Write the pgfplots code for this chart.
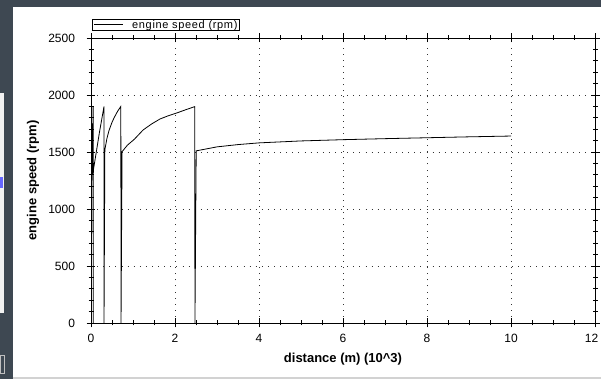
\documentclass[border=0pt]{standalone}
\usepackage{pgfplots}
\pgfplotsset{compat=1.18}
\usepackage{fontspec}
\setmainfont{Liberation Sans}
\newfontfamily\legfont[LetterSpace=6]{Liberation Sans}
\definecolor{framegray}{HTML}{3E4852}
\begin{document}
\begin{tikzpicture}[x=1pt,y=1pt]
\useasboundingbox (0,0) rectangle (601,379);
\fill[white] (0,0) rectangle (601,379);
\fill[framegray] (0,372) rectangle (601,379);
\fill[framegray] (0,0) rectangle (13,379);
\fill[gray!10] (0,66) rectangle (4,286);
\fill[blue!60] (0,191) rectangle (3,202);
\draw[gray!50] (0,6) rectangle (4,24);
\fill[gray!35] (13,0) rectangle (601,2);
\begin{axis}[
  at={(91pt,56pt)}, anchor=south west,
  width=504pt, height=285pt, scale only axis,
  xmin=0, xmax=12, ymin=0, ymax=2500,
  xtick={0,2,...,12}, ytick={0,500,...,2500},
  xticklabels={0,2,4,6,8,10,{\hspace*{-7pt}12}},
  minor x tick num=3, minor y tick num=4,
  tick align=center, major tick length=9pt, minor tick length=5pt,
  every tick/.style={black, line width=0.7pt},
  axis line style={line width=0.9pt},
  xmajorgrids, ymajorgrids,
  grid style={black!80, line width=0.9pt, dash pattern=on 0.9pt off 5.2pt},
  /pgf/number format/assume math mode=true,
  /pgf/number format/1000 sep={},
  ticklabel style={font=\fontsize{12}{14}\selectfont},
  yticklabel style={xshift=-8pt},
  xticklabel style={yshift=-3pt},
  xlabel={distance (m) (10\textasciicircum 3)},
  ylabel={engine speed (rpm)},
  label style={font=\bfseries\fontsize{13}{15}\selectfont},
  xlabel style={at={(axis description cs:0.5,0)}, anchor=center, yshift=-36pt},
  ylabel style={at={(axis description cs:0,0.5)}, anchor=center, yshift=58pt},
  legend style={at={(axis description cs:0,1)}, anchor=south west, xshift=1pt, yshift=7pt,
    draw=black, line width=0.8pt, inner xsep=1pt, inner ysep=0pt,
    font=\legfont\fontsize{11}{13}\selectfont, nodes={inner sep=1pt}},
  legend image code/.code={\draw[#1, line width=0.8pt] (2pt,0pt) -- (31pt,0pt);},
  legend cell align=left,
]
\addplot[black, line width=0.8pt] coordinates {
(0.000,1300) (0.008,1900) (0.013,1350) (0.018,1750) (0.023,1300) (0.028,1700)
(0.033,1400) (0.038,1750) (0.043,1250) (0.050,1900) (0.052,0) (0.056,1340)
(0.10,1440) (0.20,1670) (0.31,1900) (0.31,0) (0.33,1520) (0.38,1620)
(0.43,1690) (0.50,1760) (0.55,1800) (0.63,1855) (0.71,1900) (0.715,0)
(0.74,1503) (0.87,1561) (1.03,1611) (1.24,1693) (1.44,1745) (1.64,1789)
(1.84,1818) (2.04,1842) (2.25,1870) (2.47,1898) (2.475,0) (2.505,1510)
(3.0,1545) (3.5,1565) (4.0,1580) (5.0,1597) (6.0,1608) (7.0,1617)
(8.0,1625) (9.0,1633) (10.0,1640)
};
\addlegendentry{\hspace*{8pt}engine speed (rpm)}
\end{axis}
\end{tikzpicture}
\end{document}
